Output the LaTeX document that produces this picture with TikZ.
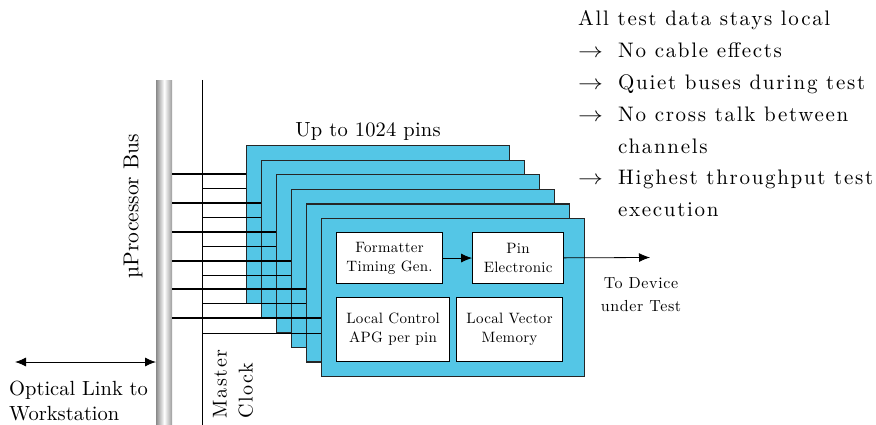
\documentclass[tikz,border=0pt]{standalone}
\usepackage{fontspec}
\setmainfont{lmroman10-regular.otf}
\usetikzlibrary{positioning,arrows.meta}
\definecolor{cardblue}{RGB}{84,198,230}
\newcommand{\spaced}[1]{\addfontfeatures{LetterSpace=#1}}
\newcommand{\then}{\scalebox{1.2}[1]{$\rightarrow$}}

\begin{document}
\begin{tikzpicture}[x=1pt, y=-1pt, >={Latex[length=11pt,width=9pt]}]
  \tikzstyle{card}=[draw=black!85, fill=cardblue, line width=1.2pt, minimum width=263pt, minimum height=158pt, inner sep=0pt, anchor=north west]
  \tikzstyle{unit}=[draw, fill=white, line width=1.1pt, inner sep=0pt, align=center, font=\fontsize{15}{19}\selectfont\spaced{2}]
  \tikzstyle{lbl}=[inner sep=0pt, font=\fontsize{20.5}{25}\selectfont]
  \tikzstyle{pinwire}=[line width=1.6pt]
  \tikzstyle{clkwire}=[line width=0.8pt]

  \useasboundingbox (0,0) rectangle (876,425);

  % processor bus and master clock
  \node[minimum width=16pt, minimum height=345pt, inner sep=0pt, left color=black!45, right color=black!40, middle color=white, anchor=north west] (bus) at (156,80) {};
  \coordinate (clktop) at (202,80);
  \coordinate (clkbot) at (202,425);
  \draw[line width=1pt] (clktop) -- (clkbot);

  % pin cards
  \foreach \k in {1,...,6}
    \node[card] (card\k) at ({246+15*(\k-1)}, {145+14.6*(\k-1)}) {};

  \foreach \k/\yb/\yc in {1/174/188, 2/203/217, 3/232/246, 4/261/275, 5/289/303, 6/318/333} {
    \draw[pinwire] (bus.east |- 0,\yb) -- (card\k.west |- 0,\yb);
    \draw[clkwire] (clktop |- 0,\yc) -- (card\k.west |- 0,\yc);
  }

  % front card
  \node[unit, minimum width=106pt, minimum height=51pt, anchor=north west] (fmt) at (336,232) {Formatter\\Timing Gen.};
  \node[unit, minimum width=91pt, minimum height=51pt, right=29pt of fmt] (pin) {Pin\\Electronic};
  \node[unit, minimum width=113pt, minimum height=64pt, anchor=north west] (apg) at (336,297) {Local Control\\APG per pin};
  \node[unit, minimum width=106pt, minimum height=64pt, anchor=north west] (vec) at (456,297) {Local Vector\\Memory};

  \draw[->, line width=0.8pt] (fmt) -- (pin);
  \coordinate (dut) at (650,257.5);
  \draw[->, line width=0.8pt] (pin) -- (dut);
  \node[font=\fontsize{16}{23}\selectfont\spaced{4}, align=center, inner sep=0pt] (dutlbl) at (641,295) {To Device\\under Test};

  % labels
  \node[lbl, font=\fontsize{20.5}{24}\selectfont\spaced{1}, anchor=base] (cnt) at (368,137) {Up to 1024 pins};
  \node[lbl, font=\fontsize{21.5}{25}\selectfont, rotate=90] (buslbl) at (133,206) {µProcessor Bus};
  \node[lbl, rotate=90, align=left, font=\fontsize{20}{26}\selectfont\spaced{8}] (clklbl) at (233,384) {Master\\Clock};

  \coordinate (ws) at (15,362);
  \draw[<->, line width=0.9pt] (ws) -- (bus.west |- ws);
  \node[lbl, align=left, anchor=north west] (wslbl) at (9,381) {Optical Link to\\Workstation};

  \node[anchor=base west, inner sep=0pt, font=\fontsize{21}{31.8}\selectfont\spaced{8}] (notes) at (578,26) {%
    \begin{tabular}[t]{@{}p{40pt}@{}l@{}}
      \multicolumn{2}{@{}l@{}}{All test data stays local}\\
      \then & No cable effects\\
      \then & Quiet buses during test\\
      \then & No cross talk between\\
       & channels\\
      \then & Highest throughput test\\
       & execution
    \end{tabular}};
\end{tikzpicture}
\end{document}
